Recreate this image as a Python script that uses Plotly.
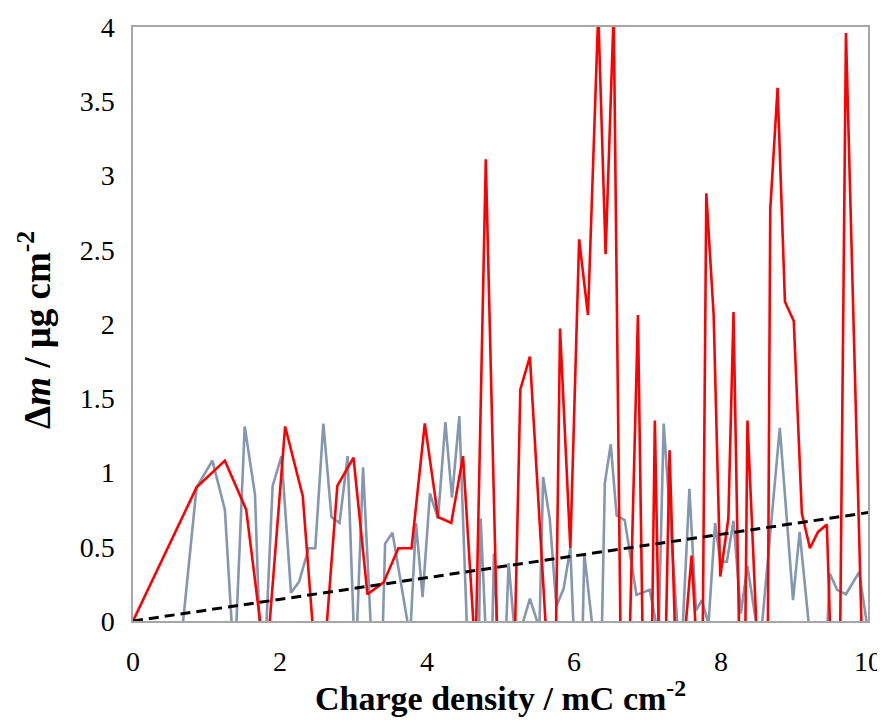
import plotly.graph_objects as go

# Red series (charge density, mass change)
red_x = [0, 0.865, 1.25, 1.54, 1.81, 2.07, 2.31, 2.54, 2.78, 3.0, 3.19, 3.41, 3.61, 3.79,
         3.97, 4.15, 4.33, 4.49, 4.66, 4.80, 5.08, 5.27, 5.40, 5.73, 5.81, 5.95, 6.07,
         6.19, 6.33, 6.43, 6.54, 6.67, 6.87, 7.0, 7.10, 7.2, 7.30, 7.41, 7.60, 7.74,
         7.80, 7.90, 7.99, 8.10, 8.17, 8.30, 8.36, 8.62, 8.67, 8.77, 8.87, 8.99, 9.10,
         9.21, 9.32, 9.44, 9.59, 9.70, 10.0]
red_y = [0, 0.90, 1.08, 0.75, -0.32, 1.31, 0.84, -0.65, 0.91, 1.10, 0.18, 0.26, 0.49, 0.49,
         1.33, 0.70, 0.66, 1.11, -0.24, 3.11, -2.7, 1.56, 1.78, -1.0, 1.97, 0.49, 2.57,
         2.06, 4.1, 2.47, 4.1, -1.8, 2.06, -2.4, 1.35, -1.35, 1.15, -0.66, 0.44, -0.8,
         2.88, 2.06, 0.30, 0.69, 2.08, -1.6, 1.35, -1.6, 2.77, 3.59, 2.15, 2.02, 0.725,
         0.49, 0.60, 0.65, -1.7, 3.96, -1.7]

# Grey series
grey_x = [0, 0.5, 0.865, 1.08, 1.25, 1.38, 1.52, 1.66, 1.76, 1.90, 2.02, 2.15, 2.26, 2.39,
          2.48, 2.59, 2.70, 2.81, 2.92, 3.025, 3.13, 3.34, 3.43, 3.53, 3.77, 3.85, 3.94,
          4.04, 4.15, 4.25, 4.34, 4.44, 4.66, 4.73, 4.86, 4.91, 5.02, 5.11, 5.21, 5.40,
          5.53, 5.58, 5.67, 5.76, 5.86, 5.95, 6.075, 6.14, 6.36, 6.42, 6.50, 6.58, 6.69,
          6.85, 7.03, 7.15, 7.22, 7.45, 7.57, 7.66, 7.74, 7.83, 7.92, 7.99, 8.08, 8.17,
          8.27, 8.36, 8.53, 8.80, 8.98, 9.07, 9.37, 9.48, 9.58, 9.70, 9.88, 10.0]
grey_y = [0, -0.9, 0.90, 1.08, 0.75, -0.33, 1.31, 0.85, -0.63, 0.91, 1.11, 0.19, 0.265, 0.49,
          0.49, 1.33, 0.70, 0.66, 1.11, -0.35, 1.035, -1.1, 0.52, 0.595, -0.11, 0.66, 0.16,
          0.86, 0.69, 1.34, 0.83, 1.38, -1.66, 0.69, -0.76, 0.455, -0.8, 0.39, -0.17, 0.15,
          -0.05, 0.97, 0.69, 0.10, 0.22, 0.49, -1.04, 0.455, -0.53, 0.93, 1.19, 0.71, 0.68,
          0.175, 0.21, -0.1, 1.33, -0.34, 0.89, 0.07, 0.14, -0.02, 0.66, 0.40, 0.40, 0.675,
          0.05, 0.37, -0.18, 1.30, 0.14, 0.60, -0.9, 0.32, 0.21, 0.18, 0.33, -0.07]

# Linear reference (dashed)
fit_x = [0, 10]
fit_y = [0, 0.73]

x_ticks = [0, 2, 4, 6, 8, 10]
y_ticks = [0, 0.5, 1, 1.5, 2, 2.5, 3, 3.5, 4]
y_ticklabels = ["0", "0.5", "1", "1.5", "2", "2.5", "3", "3.5", "4"]

FONT = "Liberation Serif"

fig = go.Figure()
fig.add_trace(go.Scatter(x=grey_x, y=grey_y, mode="lines",
                         line=dict(color="#8497B0", width=2.6), showlegend=False))
fig.add_trace(go.Scatter(x=red_x, y=red_y, mode="lines",
                         line=dict(color="#FF0000", width=2.6), showlegend=False))
fig.add_trace(go.Scatter(x=fit_x, y=fit_y, mode="lines",
                         line=dict(color="#000000", width=3, dash="10px,6px"), showlegend=False))

# page body adds an 8px offset; margins compensate so the plot area sits where the reference has it
fig.update_layout(
    width=885, height=720,
    margin=dict(l=125, r=25, t=19, b=107),
    paper_bgcolor="white", plot_bgcolor="white",
    font=dict(family=FONT, size=28, color="black"),
    xaxis=dict(range=[0, 10], tickvals=x_ticks, showgrid=False, zeroline=False,
               showline=True, linecolor="#A6A6A6", linewidth=1.5, mirror=True,
               ticks="", ticklabelstandoff=15, automargin=False,
               tickfont=dict(family=FONT, size=28)),
    yaxis=dict(range=[0, 4], tickvals=y_ticks, ticktext=y_ticklabels, showgrid=False,
               zeroline=False, showline=True, linecolor="#A6A6A6", linewidth=1.5,
               mirror=True, ticks="", ticklabelstandoff=11, automargin=False,
               tickfont=dict(family=FONT, size=28)),
    annotations=[
        dict(text="<b>Charge density / mC cm<sup>-2</sup></b>", xref="paper", yref="paper",
             x=0.5, y=(621 - 696) / 594, xanchor="center", yanchor="middle",
             showarrow=False, font=dict(family=FONT, size=34)),
        dict(text="<b>Δ<i>m</i> / μg cm<sup>-2</sup></b>", xref="paper", yref="paper",
             x=(34 - 133) / 735, y=(621 - 330) / 594, xanchor="center", yanchor="middle",
             textangle=-90, showarrow=False, font=dict(family=FONT, size=37)),
    ],
)

fig.write_html("out.html")
